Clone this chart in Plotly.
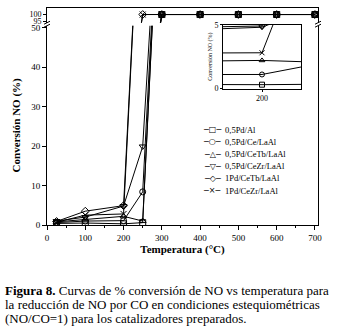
import plotly.graph_objects as go

# ---------------- data ----------------
temps = [25, 100, 200, 250, 300, 400, 500, 600, 700]
series_names = ["0,5Pd/Al", "0,5Pd/Ce/LaAl", "0,5Pd/CeTb/LaAl",
                "0,5Pd/CeZr/LaAl", "1Pd/CeTb/LaAl", "1Pd/CeZr/LaAl"]
pd_al      = [0.4, 0.5, 0.3, 0.6, 100, 100, 100, 100, 100]
pd_ce      = [0.6, 1.0, 1.1, 8.4, 100, 100, 100, 100, 100]
pd_cetb    = [0.8, 1.4, 2.2, 1.0, 100, 100, 100, 100, 100]
pd_cezr    = [1.0, 2.0, 4.8, 19.9, 100, 100, 100, 100, 100]
pd1_cetb   = [0.9, 3.5, 4.9, 100, 100, 100, 100, 100, 100]
pd1_cezr   = [0.7, 2.5, 2.8, 100, 100, 100, 100, 100, 100]
series_values = [pd_al, pd_ce, pd_cetb, pd_cezr, pd1_cetb, pd1_cezr]

x_ticks = [0, 100, 200, 300, 400, 500, 600, 700]
y_low_ticks = [0, 10, 20, 30, 40, 50]
y_high_ticks = [95, 100]
inset_x_ticks = [200]
inset_y_ticks = [0, 5]

x_title = "<b>Temperatura (°C)</b>"
y_title = "<b>Conversión NO (%)</b>"
inset_y_title = "Conversión NO (%)"
caption_lines = ["<b>Figura 8.</b> Curvas de % conversión de NO vs temperatura para",
                 "la reducción de NO por CO en condiciones estequiométricas",
                 "(NO/CO=1) para los catalizadores preparados."]

# ---------------- styles / layout constants ----------------
symbols = ["square-open", "circle-open", "triangle-up-open",
           "triangle-down-open", "diamond-open", "x-thin-open"]
legend_glyphs = ["□", "○", "△", "▽", "◇", "×"]

W, H = 344, 332
PL, PR, PT, PB = 47, 318, 4, 225          # plot-area edges in px
PW, PH = PR - PL, PB - PT


def fx(px):
    return (px - PL) / PW


def fy(py):
    return (PB - py) / PH


SERIF = "Liberation Serif, Times New Roman, Times, serif"
low_top = 22      # px top of lower (0-50) segment
high_bot = 19     # px bottom of upper (95-100) segment

fig = go.Figure()

for name, vals, sym in zip(series_names, series_values, symbols):
    for xa, ya in (("x", "y"), ("x2", "y2")):
        fig.add_trace(go.Scatter(
            x=temps, y=vals, xaxis=xa, yaxis=ya, mode="lines+markers", name=name,
            showlegend=False,
            line=dict(color="black", width=1),
            marker=dict(symbol=sym, size=6, color="black", line=dict(width=1, color="black")),
        ))
    fig.add_trace(go.Scatter(
        x=temps, y=vals, xaxis="x3", yaxis="y3", mode="lines+markers", name=name,
        showlegend=False,
        line=dict(color="black", width=1),
        marker=dict(symbol=sym, size=5, color="black", line=dict(width=1, color="black")),
    ))

axis_common = dict(showgrid=False, zeroline=False, showline=True, linecolor="black",
                   linewidth=1, tickcolor="black", tickfont=dict(family=SERIF, size=9, color="black"))

fig.update_layout(
    width=W, height=H,
    margin=dict(l=PL, r=W - PR, t=PT, b=H - PB, pad=0),
    paper_bgcolor="white", plot_bgcolor="white",
    showlegend=False,
    font=dict(family=SERIF, color="black"),
    xaxis=dict(axis_common, domain=[0, 1], anchor="y", range=[0, 708], tickvals=x_ticks,
               ticks="outside", ticklen=4,
               minor=dict(ticks="outside", ticklen=2, dtick=50, tick0=0, tickcolor="black"),
               title=dict(text=x_title, font=dict(family=SERIF, size=11), standoff=3)),
    yaxis=dict(axis_common, domain=[0, fy(low_top)], anchor="x", range=[0, 50.5],
               tickvals=y_low_ticks, ticks="outside", ticklen=4, mirror=True,
               title=dict(text=y_title, font=dict(family=SERIF, size=11), standoff=8)),
    xaxis2=dict(axis_common, domain=[0, 1], anchor="y2", side="top", matches="x",
                range=[0, 708], showticklabels=False, ticks=""),
    yaxis2=dict(axis_common, domain=[fy(high_bot), 1], anchor="x2", range=[93.7, 105],
                tickvals=y_high_ticks, ticks="outside", ticklen=3, mirror=True,
                tickfont=dict(family=SERIF, size=8, color="black")),
    xaxis3=dict(axis_common, domain=[fx(223), fx(301)], anchor="y3", range=[196, 204],
                tickvals=inset_x_ticks, ticks="outside", ticklen=2, mirror=True,
                tickfont=dict(family=SERIF, size=8, color="black")),
    yaxis3=dict(axis_common, domain=[fy(86), fy(21)], anchor="x3", range=[0, 5],
                tickvals=inset_y_ticks, ticks="outside", ticklen=2, mirror=True,
                tickfont=dict(family=SERIF, size=8, color="black"),
                title=dict(text=inset_y_title, font=dict(family=SERIF, size=6), standoff=1)),
)

# broken-axis marks
shapes = []
for xa in (0, 1):
    for ya in (fy(low_top), fy(high_bot)):
        shapes.append(dict(type="line", xref="paper", yref="paper",
                           xsizemode="pixel", ysizemode="pixel",
                           xanchor=xa, yanchor=ya, x0=-3, x1=3, y0=-1.5, y1=1.5,
                           line=dict(color="black", width=1)))
fig.update_layout(shapes=shapes)

# legend drawn as text rows
annotations = []
for i, (name, g) in enumerate(zip(series_names, legend_glyphs)):
    ypx = 128 + i * 12.4
    annotations.append(dict(xref="paper", yref="paper", x=fx(212), y=fy(ypx),
                            xanchor="center", yanchor="middle", showarrow=False,
                            text="─" + g + "─",
                            font=dict(family="DejaVu Sans", size=8, color="black")))
    annotations.append(dict(xref="paper", yref="paper", x=fx(223), y=fy(ypx),
                            xanchor="left", yanchor="middle", showarrow=False,
                            text=name, font=dict(family=SERIF, size=8.5, color="black")))

for i, line in enumerate(caption_lines):
    ypx = 292 + i * 14
    annotations.append(dict(xref="paper", yref="paper", x=fx(3), y=fy(ypx),
                            xanchor="left", yanchor="middle", showarrow=False,
                            text=line, font=dict(family=SERIF, size=13, color="black")))
fig.update_layout(annotations=annotations)

fig.write_html("out.html", config={"displayModeBar": False},
               post_script="document.body.style.margin='0';")
